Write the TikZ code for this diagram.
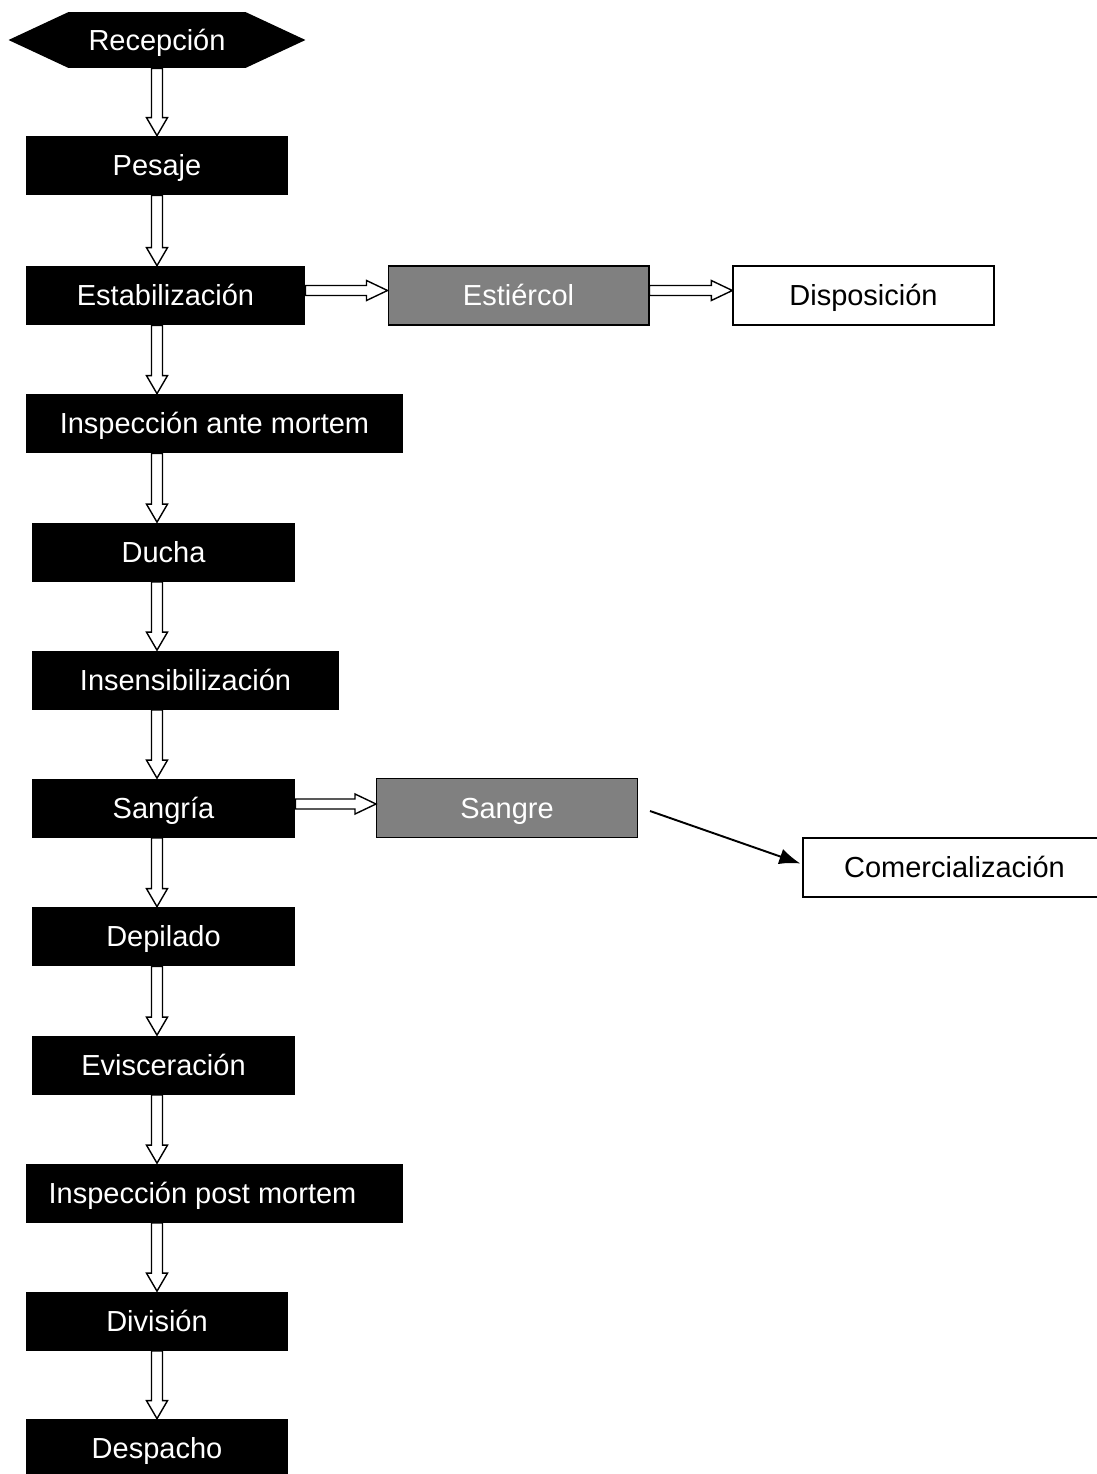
\documentclass[tikz,border=0pt]{standalone}
\usepackage{fontspec}
\setmainfont{Liberation Sans}
\usetikzlibrary{calc,arrows.meta,shapes.symbols}
\definecolor{wastegray}{RGB}{128,128,128}
\tikzset{
  stagebox/.style={fill=black, text=white, minimum height=1.18cm, inner sep=0pt, text height=11.8pt, text depth=0pt},
  wastebox/.style={draw=black, line width=0.6pt, fill=wastegray, text=white, minimum height=1.18cm, minimum width=5.22cm, inner sep=0pt, text height=11.8pt, text depth=0pt},
  destbox/.style={draw=black, line width=0.8pt, fill=white, minimum height=1.18cm, inner sep=0pt, text height=11.8pt, text depth=0pt},
  hollowdown/.style={draw, fill=white, line width=0.8pt,
    to path={let \p1=(\tikztostart), \p2=(\tikztotarget) in
      (\x1-0.11cm,\y1) -- (\x1-0.11cm,\y2+0.36cm) -- (\x1-0.21cm,\y2+0.36cm) -- (\x1,\y2)
      -- (\x1+0.21cm,\y2+0.36cm) -- (\x1+0.11cm,\y2+0.36cm) -- (\x1+0.11cm,\y1) -- cycle}},
  hollowright/.style={draw, fill=white, line width=0.8pt,
    to path={let \p1=(\tikztostart), \p2=(\tikztotarget) in
      (\x1,\y1+0.1cm) -- (\x2-0.42cm,\y1+0.1cm) -- (\x2-0.42cm,\y1+0.2cm) -- (\x2,\y1)
      -- (\x2-0.42cm,\y1-0.2cm) -- (\x2-0.42cm,\y1-0.1cm) -- (\x1,\y1-0.1cm) -- cycle}}
}

\begin{document}
\begin{tikzpicture}[x=0.02cm, y=-0.02cm, font=\fontsize{16.5}{20}\selectfont]
\useasboundingbox (0,0) rectangle (1097,1474);

% process line
\node[signal, signal to=west and east, signal pointer angle=50, fill=black, text=white,
  minimum width=5.94cm, minimum height=1.12cm, inner sep=0pt, text height=11.8pt, text depth=0pt] (recep) at (157,40) {Recepción};
\node[stagebox, minimum width=5.24cm] (pesaje) at (157,165.5) {Pesaje};
\node[stagebox, minimum width=5.58cm] (estab) at (165.5,295.5) {Estabilización};
\node[stagebox, minimum width=7.54cm] (inspam) at (214.5,423.5) {Inspección ante mortem};
\node[stagebox, minimum width=5.26cm] (ducha) at (163.5,552) {Ducha};
\node[stagebox, minimum width=6.14cm] (insens) at (185.5,680) {Insensibilización};
\node[stagebox, minimum width=5.26cm] (sangria) at (163.5,808) {Sangría};
\node[stagebox, minimum width=5.26cm] (depil) at (163.5,936.5) {Depilado};
\node[stagebox, minimum width=5.26cm] (evisc) at (163.5,1065) {Evisceración};
\node[stagebox, minimum width=7.54cm] (insppm) at (214.5,1193) {\hspace*{-0.48cm}Inspección post mortem};
\node[stagebox, minimum width=5.24cm] (divis) at (157,1321) {División};
\node[stagebox, minimum width=5.24cm] (despa) at (157,1448.5) {Despacho};

% by-products
\node[wastebox] (estier) at (518.5,295.5) {Estiércol};
\node[destbox, minimum width=5.22cm] (dispo) at (863.5,295.5) {Disposición};
\node[wastebox] (sangre) at (507,808) {Sangre};
\node[destbox, minimum width=6.06cm] (comer) at (954.5,867.5) {Comercialización};

% flow
\draw[hollowdown] (recep.south) to (pesaje.north);
\draw[hollowdown] (pesaje.south) to (estab.north -| pesaje);
\draw[hollowdown] (estab.south -| pesaje) to (inspam.north -| pesaje);
\draw[hollowdown] (inspam.south -| pesaje) to (ducha.north -| pesaje);
\draw[hollowdown] (ducha.south -| pesaje) to (insens.north -| pesaje);
\draw[hollowdown] (insens.south -| pesaje) to (sangria.north -| pesaje);
\draw[hollowdown] (sangria.south -| pesaje) to (depil.north -| pesaje);
\draw[hollowdown] (depil.south -| pesaje) to (evisc.north -| pesaje);
\draw[hollowdown] (evisc.south -| pesaje) to (insppm.north -| pesaje);
\draw[hollowdown] (insppm.south -| pesaje) to (divis.north);
\draw[hollowdown] (divis.south) to (despa.north);

\draw[hollowright] ($(estab.east)+(0,-5)$) to (estier.west);
\draw[hollowright] ($(estier.east)+(0,-5)$) to (dispo.west);
\draw[hollowright] ($(sangria.east)+(0,-4)$) to (sangre.west);
\draw[line width=1.1pt, -{Latex[length=0.42cm, width=0.32cm]}] ($(sangre.east)+(12,3)$) -- ($(comer.west)+(-2,-4)$);
\end{tikzpicture}
\end{document}
